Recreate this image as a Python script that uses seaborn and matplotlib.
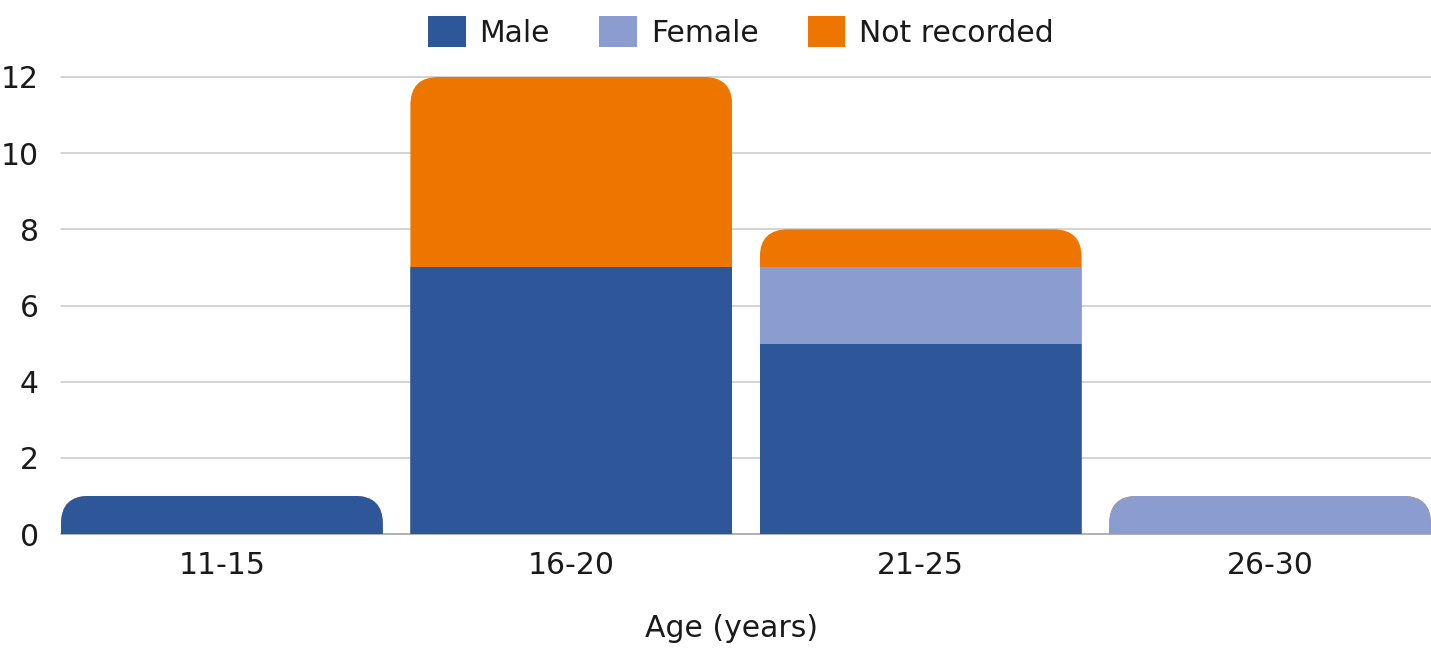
import numpy as np
import pandas as pd
import matplotlib
matplotlib.use("Agg")
import matplotlib.pyplot as plt
import seaborn as sns
from matplotlib.patches import FancyBboxPatch, Patch
from matplotlib.transforms import IdentityTransform

age_groups = ["11-15", "16-20", "21-25", "26-30"]
male = [1, 7, 5, 0]
female = [0, 0, 2, 1]
not_recorded = [0, 5, 1, 0]

colors = {"Male": "#2E5799", "Female": "#8A9CD0", "Not recorded": "#EE7600"}
bar_w = 0.921

sns.set_theme(style="white")
plt.rcParams["font.family"] = ["DejaVu Sans"]
text_col = "#1a1a1a"
fs = 21.5

fig = plt.figure(figsize=(14.31, 6.53), dpi=100)
ax = fig.add_axes([61 / 1431, 1 - 534 / 653, 1 - 61 / 1431, (534 - 77) / 653])

m = np.array(male)
f = np.array(female)
n = np.array(not_recorded)
layers = [
    ("Not recorded", m + f + n),
    ("Female", m + f),
    ("Male", m),
]
for name, heights in layers:
    df = pd.DataFrame({"age": age_groups, "count": heights})
    sns.barplot(data=df, x="age", y="count", color=colors[name], width=bar_w,
                saturation=1, linewidth=0, ax=ax, zorder=3)

ax.set_xlim(-bar_w / 2, 3 + bar_w / 2)
ax.set_ylim(0, 12)
ax.set_yticks(range(0, 13, 2))
ax.yaxis.grid(True, color="#c8c8c8", linewidth=1.1, zorder=0)
for gl in ax.get_ygridlines():
    gl.set_clip_on(False)
ax.set_axisbelow(True)
for s in ["top", "right", "left"]:
    ax.spines[s].set_visible(False)
ax.spines["bottom"].set_color("#a8a8a8")
ax.spines["bottom"].set_linewidth(1.1)
ax.tick_params(axis="y", length=0, pad=16, labelsize=fs, labelcolor=text_col)
ax.tick_params(axis="x", length=0, pad=12, labelsize=fs, labelcolor=text_col)
ax.set_ylabel("")
ax.set_xlabel("Age (years)", fontsize=fs, color=text_col, labelpad=25)
ax.xaxis.label.set_x((731.5 - 61) / 1370)

# round the top corners of each stacked column
fig.canvas.draw()
totals = m + f + n
r = 28
for i, tot in enumerate(totals):
    (px0, py0) = ax.transData.transform((i - bar_w / 2, 0))
    (px1, py1) = ax.transData.transform((i + bar_w / 2, tot))
    clip = FancyBboxPatch((px0, py0 - 2 * r), px1 - px0, py1 - py0 + 2 * r,
                          boxstyle=f"round,pad=0,rounding_size={r}",
                          transform=IdentityTransform())
    for p in ax.patches:
        cx = p.get_x() + p.get_width() / 2
        if abs(cx - i) < 0.01:
            p.set_clip_path(clip)

handles = [Patch(facecolor=colors[k], edgecolor="none") for k in ["Male", "Female", "Not recorded"]]
fig.legend(handles, ["Male", "Female", "Not recorded"], loc="center",
           bbox_to_anchor=(741 / 1431, 1 - 32 / 653), ncol=3, frameon=False,
           fontsize=fs, handlelength=1.26, handleheight=1.2,
           handletextpad=0.46, columnspacing=1.65, labelcolor=text_col)

fig.savefig("out.png", dpi=100)
